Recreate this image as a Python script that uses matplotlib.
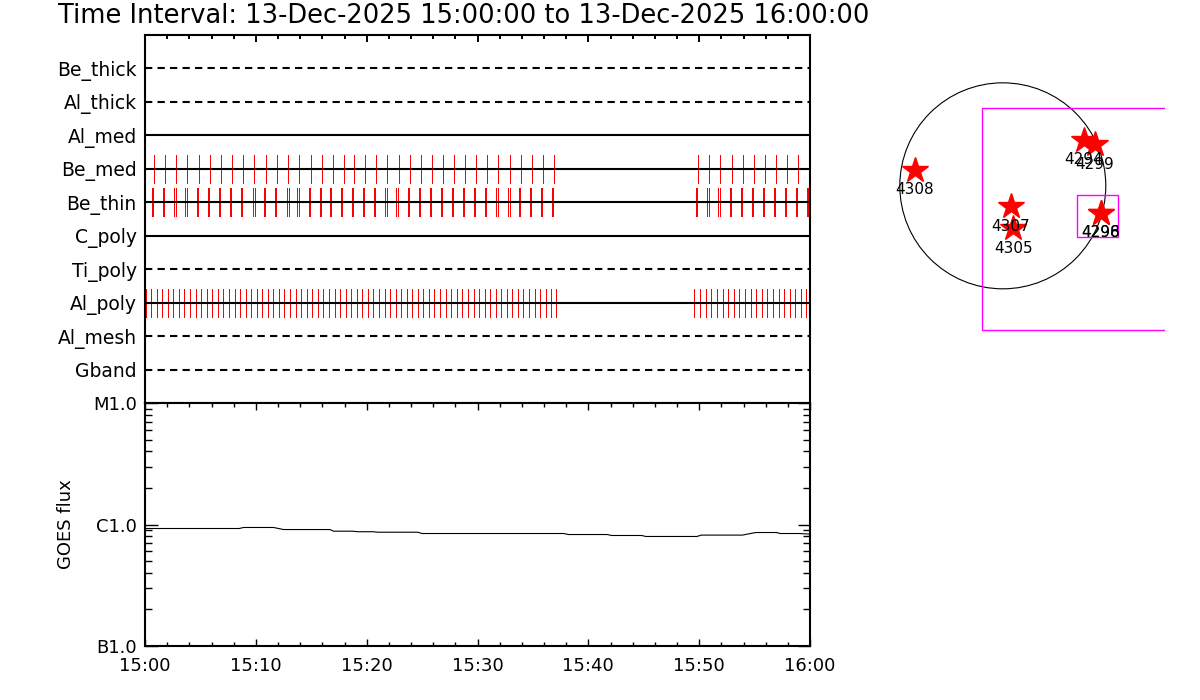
import numpy as np
import matplotlib
matplotlib.use('Agg')
import matplotlib.pyplot as plt
from matplotlib.patches import Circle, Rectangle
from matplotlib.ticker import MultipleLocator, NullFormatter, LogLocator

# title of the plot
title = "Time Interval: 13-Dec-2025 15:00:00 to 13-Dec-2025 16:00:00"

# filter names, top to bottom, and whether the row line is solid
filters = ['Be_thick', 'Al_thick', 'Al_med', 'Be_med', 'Be_thin',
           'C_poly', 'Ti_poly', 'Al_poly', 'Al_mesh', 'Gband']
filter_solid = [False, False, True, True, True, True, False, True, False, False]

# exposure times (minutes after 15:00)
be_med_times = [0.84, 1.83, 2.82, 3.82, 4.90, 5.89, 6.88, 7.88, 8.87, 9.86,
                10.95, 11.94, 12.93, 13.92, 15.00, 16.00, 16.99, 17.98, 18.88,
                19.88, 20.87, 21.86, 22.90, 23.94, 24.93, 25.92, 26.91, 27.91,
                28.90, 29.89, 30.88, 31.88, 32.91, 33.91, 34.95, 35.94, 36.93,
                49.92, 50.92, 51.91, 52.99, 53.98, 54.97, 55.97, 56.96, 57.95,
                58.94, 59.94]

be_thin_times = [0.69, 1.69, 2.72, 3.72, 4.78, 5.75, 6.74, 7.73, 8.72, 9.79,
                 10.80, 11.79, 12.86, 13.79, 14.80, 15.79, 16.76, 17.75, 18.72,
                 19.73, 20.73, 21.77, 22.78, 23.79, 24.78, 25.78, 26.77, 27.76,
                 28.76, 29.75, 30.74, 31.80, 32.80, 33.81, 34.80, 35.79, 36.79,
                 49.78, 50.82, 51.81, 52.85, 53.84, 54.83, 55.82, 56.82, 57.81,
                 58.80, 59.79]
# pairs that show as two separate lines
be_thin_split = [False, False, True, True, False, False, False, False, False, True,
                 False, False, True, True, False, False, False, False, False,
                 False, False, True, True, False, False, False, False, False,
                 False, False, False, True, True, False, False, False, False,
                 False, True, True, False, False, False, False, False, False,
                 False, False]

al_poly_times = [0.06, 0.56, 1.06, 1.56, 2.06, 2.56, 3.06, 3.56, 4.06, 4.56,
                 5.06, 5.56, 6.06, 6.56, 7.08, 7.58, 8.08, 8.58, 9.08, 9.58,
                 10.08, 10.58, 11.08, 11.58, 12.08, 12.58, 13.08, 13.58, 14.10,
                 14.60, 15.10, 15.60, 16.10, 16.60, 17.10, 17.60, 18.10, 18.60,
                 19.10, 19.60, 20.10, 20.60, 21.12, 21.62, 22.12, 22.62, 23.12,
                 23.62, 24.12, 24.62, 25.12, 25.62, 26.12, 26.62, 27.12, 27.62,
                 28.14, 28.64, 29.14, 29.64, 30.14, 30.64, 31.14, 31.64, 32.14,
                 32.64, 33.14, 33.64, 34.14, 34.64, 35.16, 35.66, 36.16, 36.66,
                 37.12,
                 49.56, 50.08, 50.59, 51.10, 51.61, 52.12, 52.63, 53.12, 53.62,
                 54.14, 54.65, 55.13, 55.64, 56.15, 56.67, 57.18, 57.66, 58.17,
                 58.68, 59.17, 59.62]

filter_times = {'Be_med': be_med_times, 'Al_poly': al_poly_times}

# GOES flux curve
goes_minutes = [0.0, 8.5, 8.9, 11.6, 12.5, 16.7, 17.0, 18.7, 19.2, 20.6, 21.0,
                24.6, 25.0, 37.8, 38.2, 41.7, 42.1, 44.8, 45.2, 49.8, 50.2,
                53.9, 55.1, 57.0, 57.3, 59.0, 60.0]
goes_flux = [9.27e-7, 9.27e-7, 9.45e-7, 9.45e-7, 9.09e-7, 9.09e-7, 8.81e-7,
             8.81e-7, 8.72e-7, 8.72e-7, 8.64e-7, 8.64e-7, 8.43e-7, 8.43e-7,
             8.27e-7, 8.27e-7, 8.12e-7, 8.12e-7, 7.97e-7, 7.97e-7, 8.18e-7,
             8.18e-7, 8.59e-7, 8.59e-7, 8.43e-7, 8.43e-7, 8.34e-7]
goes_ticks = [1e-7, 1e-6, 1e-5]
goes_labels = ['B1.0', 'C1.0', 'M1.0']

time_ticks = [0, 10, 20, 30, 40, 50, 60]
time_labels = ['15:00', '15:10', '15:20', '15:30', '15:40', '15:50', '16:00']

# active regions on the disk (arcsec)
region_names = ['4308', '4307', '4305', '4294', '4299', '4296', '4298']
region_x = [-820, 77, 98, 758, 861, 914, 914]
region_y = [148, -189, -397, 428, 388, -251, -251]
sun_radius = 962

# instrument field of view boxes (x0, y0, width, height) in arcsec
fov_big = [-191, -1347, 3000, 2071]
fov_small = [696, -481, 383, 392]

plt.rcParams['font.family'] = 'DejaVu Sans'
plt.rcParams['font.size'] = 13

fig = plt.figure(figsize=(12, 7), dpi=100)

# ---- filter / exposure panel
ax = fig.add_axes([145/1200, 1-403/700, 665/1200, 368/700])
nrow = len(filters)
for i, name in enumerate(filters):
    y = nrow - i
    ls = '-' if filter_solid[i] else (0, (3.5, 2.5))
    ax.plot([0, 60], [y, y], color='black', lw=1.5, ls=ls, zorder=3)
    if name in filter_times:
        ax.vlines(filter_times[name], y-0.42, y+0.42, color='red', lw=0.72,
                  antialiased=False, zorder=2)
    if name == 'Be_thin':
        for t, split in zip(be_thin_times, be_thin_split):
            d = 0.09 if split else 0.045
            ax.vlines([t-d, t+d], y-0.42, y+0.42, color='red', lw=0.72,
                      antialiased=False, zorder=2)

ax.set_xlim(0, 60)
ax.set_ylim(0, nrow+1)
ax.set_yticks(np.arange(nrow, 0, -1))
ax.set_yticklabels(filters, fontsize=13.5)
ax.tick_params(axis='y', length=0, pad=6)
ax.xaxis.set_major_locator(MultipleLocator(10))
ax.xaxis.set_minor_locator(MultipleLocator(2))
ax.tick_params(axis='x', which='both', top=True, bottom=False, direction='in',
               labelbottom=False, width=1.4)
ax.tick_params(axis='x', which='major', length=5)
ax.tick_params(axis='x', which='minor', length=3)
for sp in ax.spines.values():
    sp.set_linewidth(1.5)

# ---- GOES panel
ax2 = fig.add_axes([145/1200, 1-646/700, 665/1200, 243/700])
ax2.plot(goes_minutes, goes_flux, color='black', lw=0.8)
ax2.set_yscale('log')
ax2.set_ylim(1e-7, 1e-5)
ax2.set_xlim(0, 60)
ax2.set_yticks(goes_ticks)
ax2.set_yticklabels(goes_labels)
ax2.yaxis.set_minor_locator(LogLocator(base=10, subs=np.arange(2, 10)))
ax2.yaxis.set_minor_formatter(NullFormatter())
ax2.set_xticks(time_ticks)
ax2.set_xticklabels(time_labels)
ax2.xaxis.set_minor_locator(MultipleLocator(2))
ax2.tick_params(axis='both', which='both', direction='in', top=True, right=True, width=1)
ax2.tick_params(axis='y', which='major', length=9, pad=6)
ax2.tick_params(axis='y', which='minor', length=5)
ax2.tick_params(axis='x', which='major', length=5, pad=8)
ax2.tick_params(axis='x', which='minor', length=3)
ax2.set_ylabel('GOES flux', labelpad=13)
for sp in ax2.spines.values():
    sp.set_linewidth(1.5)

# ---- solar disk panel
ax3 = fig.add_axes([880/1200, 1-340/700, 285/1200, 300/700])
ax3.set_xlim(-1147, 1515)
ax3.set_ylim(-1440, 1362)
ax3.axis('off')
ax3.add_patch(Circle((0, 0), sun_radius, fill=False, color='black', lw=0.8))
ax3.add_patch(Rectangle(fov_big[:2], fov_big[2], fov_big[3], fill=False,
                        edgecolor='#ff00ff', lw=1))
ax3.add_patch(Rectangle(fov_small[:2], fov_small[2], fov_small[3], fill=False,
                        edgecolor='#ff00ff', lw=1))
ax3.plot(region_x, region_y, ls='none', marker='*', color='red', ms=19)
for name, x, y in zip(region_names, region_x, region_y):
    ax3.annotate(name, (x, y), xytext=(0, -20), textcoords='offset pixels',
                 ha='center', va='center', fontsize=11)

fig.text(58/1200, 1-16/700, title, fontsize=18.5, va='center', ha='left')

fig.savefig('out.png', dpi=100)
